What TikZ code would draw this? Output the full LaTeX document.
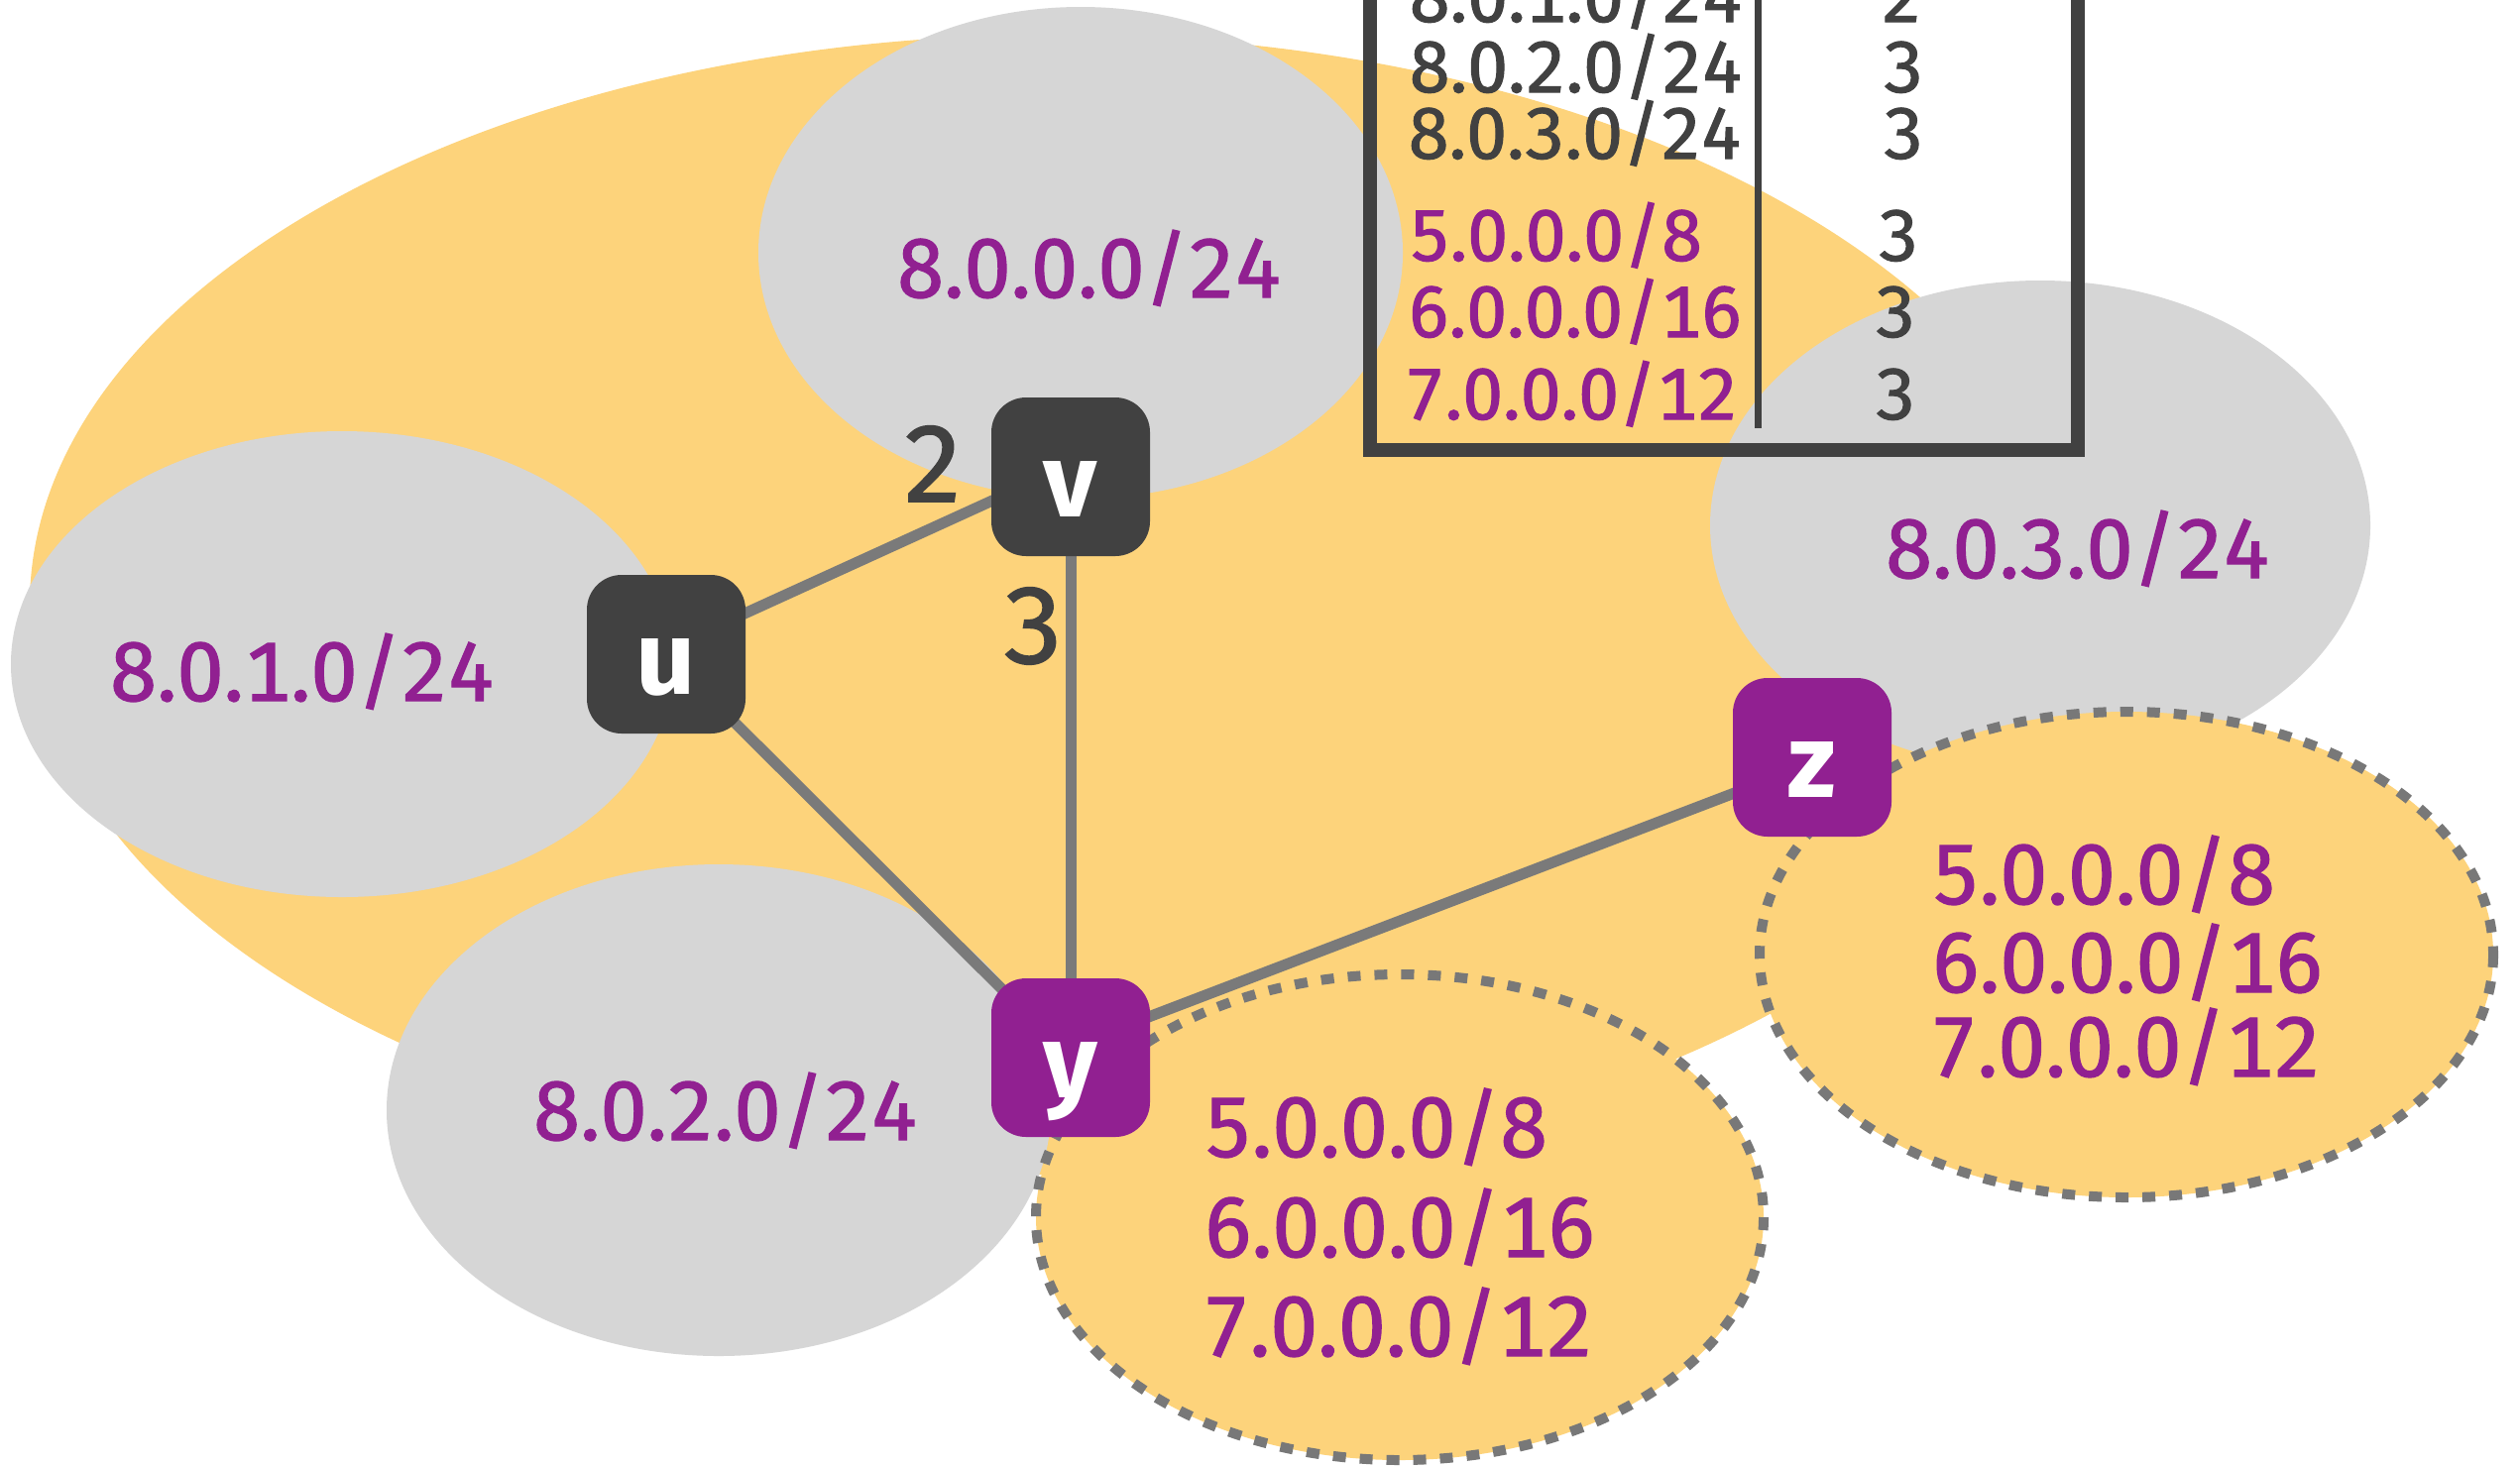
\documentclass[tikz,border=0pt]{standalone}
\usepackage{fontspec}
\setmainfont{Fira Sans}
\newfontfamily\ipfont{Fira Sans}[Numbers=Monospaced, FakeBold=1.5]
\usetikzlibrary{calc}
\definecolor{yel}{RGB}{253,211,123}
\definecolor{grayfill}{RGB}{214,214,214}
\definecolor{ipc}{RGB}{145,32,145}
\definecolor{dark}{RGB}{65,65,65}
\definecolor{edgegray}{RGB}{122,122,122}
\definecolor{dotgray}{RGB}{120,120,120}
\pgfdeclarelayer{back}
\pgfdeclarelayer{mid}
\pgfsetlayers{back,mid,main}
\begin{document}
\begin{tikzpicture}[x=0.1mm,y=-0.1mm,
  subnet/.style={fill=grayfill},
  extnet/.style={fill=yel, draw=dotgray, line width=1mm, dash pattern=on 1.3mm off 1.4mm},
  link/.style={draw=edgegray, line width=1.1mm},
  ip/.style={text=ipc, font=\ipfont\fontsize{24}{28}\selectfont, inner sep=0pt},
  bigip/.style={ip, font=\ipfont\fontsize{24.4}{29}\selectfont},
  tabtxt/.style={font=\ipfont\fontsize{20.8}{25}\selectfont, inner sep=0pt},
  weight/.style={text=dark, font=\ipfont\fontsize{31}{36}\selectfont, inner sep=0pt, anchor=base},
  router/.style={rounded corners=3.5mm, minimum width=16mm, minimum height=16mm,
    inner sep=0pt, text height=8mm, text depth=0pt, text=white,
    font=\fontsize{30}{36}\selectfont\bfseries},
  darkrouter/.style={router, fill=dark},
  purprouter/.style={router, fill=ipc}]
\clip (0,0) rectangle (2542,1479);
\begin{pgfonlayer}{back}
\fill[white] (0,0) rectangle (2542,1479);
\fill[yel] (1065,610) ellipse [x radius=1035, y radius=575];
\fill[subnet] (1090,255) ellipse [x radius=325, y radius=248];
\fill[subnet] (345,670) ellipse [x radius=334, y radius=235];
\fill[subnet] (725,1120) ellipse [x radius=335, y radius=248];
\fill[subnet] (2058,530) ellipse [x radius=333, y radius=247];
\path[extnet] (1412,1228) ellipse [x radius=367, y radius=245];
\path[extnet] (2145,963) ellipse [x radius=370, y radius=245];
% table
\draw[dark, line width=1.4mm] (1382,-100) -- (1382,454) -- (2096,454) -- (2096,-100);
\draw[dark, line width=0.7mm] (1773,-100) -- (1773,432);
\end{pgfonlayer}

% subnet labels
\node[ip, anchor=base] (l0) at (1099,300) {8.0.0.0/24};
\node[ip, anchor=base] (l1) at (305,707) {8.0.1.0/24};
\node[ip, anchor=base] (l2) at (732,1150) {8.0.2.0/24};
\node[ip, anchor=base] (l3) at (2096,583) {8.0.3.0/24};

\node[bigip, anchor=base west] (za) at (1948,912) {5.0.0.0/8};
\node[bigip, anchor=base west] (zb) at (1948,1001) {6.0.0.0/16};
\node[bigip, anchor=base west] (zc) at (1946,1086) {7.0.0.0/12};

\node[bigip, anchor=base west] (ya) at (1214,1167) {5.0.0.0/8};
\node[bigip, anchor=base west] (yb) at (1214,1268) {6.0.0.0/16};
\node[bigip, anchor=base west] (yc) at (1212,1368) {7.0.0.0/12};

% table text
\node[tabtxt, text=dark, anchor=base west] (t1) at (1421,22) {8.0.1.0/24};
\node[tabtxt, text=dark, anchor=base west] (t2) at (1421,93) {8.0.2.0/24};
\node[tabtxt, text=dark, anchor=base west] (t3) at (1420,160) {8.0.3.0/24};
\node[tabtxt, text=ipc, anchor=base west] (t5) at (1421,263) {5.0.0.0/8};
\node[tabtxt, text=ipc, anchor=base west] (t6) at (1420,340) {6.0.0.0/16};
\node[tabtxt, text=ipc, anchor=base west] (t7) at (1416,423) {7.0.0.0/12};
\node[tabtxt, text=dark, anchor=base] (c1) at (1918,22) {2};
\node[tabtxt, text=dark, anchor=base] (c2) at (1920,93) {3};
\node[tabtxt, text=dark, anchor=base] (c3) at (1920,160) {3};
\node[tabtxt, text=dark, anchor=base] (c5) at (1915,263) {3};
\node[tabtxt, text=dark, anchor=base] (c6) at (1912,340) {3};
\node[tabtxt, text=dark, anchor=base] (c7) at (1912,423) {3};

% routers
\node[darkrouter] (u) at (672,660) {u};
\node[darkrouter] (v) at (1080,481) {v};
\node[purprouter] (y) at (1080,1067) {y};
\node[purprouter] (z) at (1828,764) {z};

\begin{pgfonlayer}{mid}
\draw[link] ($(u.center)+(0,-5)$) -- ($(v.center)+(0,-12)$);
\draw[link] (u.center) -- (y.center);
\draw[link] (v.center) -- (y.center);
\draw[link] ($(y.center)+(0,-11)$) -- ($(z.center)+(0,6)$);
\end{pgfonlayer}

% weights
\node[weight] (w2) at (941,506) {2};
\node[weight] (w3) at (1042,669) {3};
\end{tikzpicture}
\end{document}
